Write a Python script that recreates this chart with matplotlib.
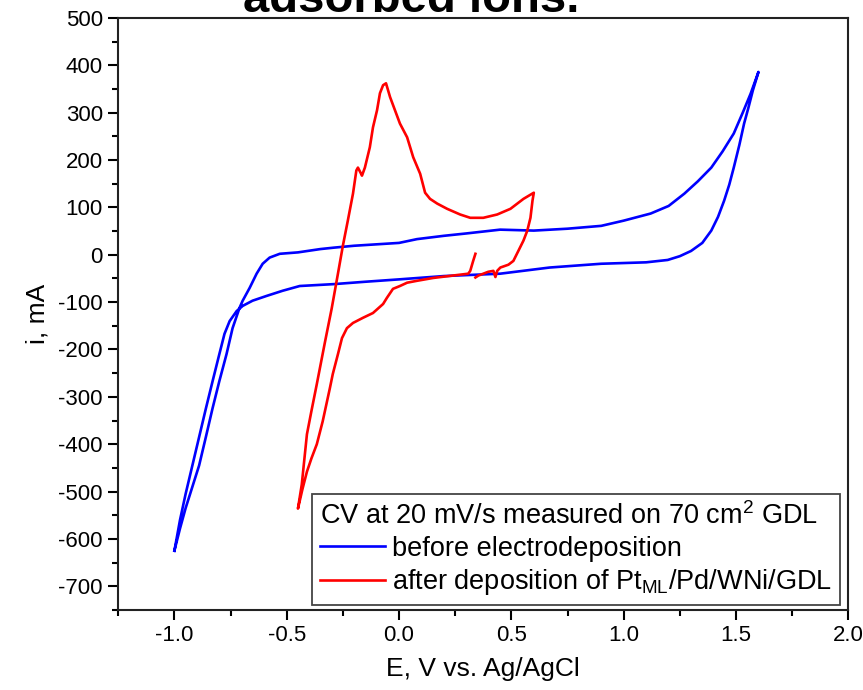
import matplotlib
matplotlib.use('Agg')
import matplotlib.pyplot as plt
from matplotlib.ticker import MultipleLocator

plt.rcParams['font.family'] = ['Liberation Sans', 'DejaVu Sans']
plt.rcParams['mathtext.fontset'] = 'custom'
plt.rcParams['mathtext.rm'] = 'Liberation Sans'
plt.rcParams['mathtext.it'] = 'Liberation Sans'
plt.rcParams['axes.unicode_minus'] = False

# CV before electrodeposition (anodic sweep then cathodic sweep)
blue_v = [-1.0, -0.975, -0.95, -0.92, -0.89, -0.86, -0.83, -0.80, -0.768, -0.741, -0.71,
          -0.696, -0.665, -0.634, -0.607, -0.576, -0.531, -0.45, -0.35, -0.29, -0.2, -0.1,
          0.0, 0.08, 0.2, 0.3, 0.45, 0.6, 0.75, 0.9, 1.0, 1.12, 1.2, 1.27, 1.33, 1.39, 1.44,
          1.49, 1.53, 1.565, 1.6,
          1.575, 1.555, 1.536, 1.515, 1.49, 1.47, 1.447, 1.42, 1.39, 1.35, 1.30, 1.25, 1.196,
          1.1, 0.9, 0.67, 0.45, 0.2, 0.0, -0.15, -0.29, -0.442, -0.518, -0.59, -0.652, -0.696,
          -0.723, -0.754, -0.777, -0.80, -0.83, -0.86, -0.89, -0.92, -0.95, -0.975, -1.0]
blue_i = [-625, -578, -535, -490, -445, -385, -324, -267, -210, -155, -112,
          -97, -70, -40, -19, -6, 2, 5, 12, 15, 19, 22,
          25, 33, 40, 45, 53, 51, 55, 61, 72, 87, 103, 129, 155, 184, 218,
          256, 300, 340, 386,
          347, 310, 277, 232, 184, 148, 114, 80, 51, 25, 8, -3, -11,
          -16, -19, -27, -40, -45, -52, -57, -62, -66, -76, -87, -97, -108,
          -119, -140, -167, -210, -267, -325, -385, -445, -505, -560, -625]

# CV after deposition of Pt_ML/Pd/WNi/GDL
red_v = [0.34, 0.33, 0.317, 0.308, 0.152, 0.08, 0.036, 0.004, -0.027, -0.054, -0.071, -0.116,
         -0.16, -0.205, -0.232, -0.254, -0.272, -0.295, -0.308, -0.34, -0.366, -0.39, -0.41,
         -0.43, -0.45, -0.433, -0.41, -0.39, -0.366, -0.33, -0.30, -0.272, -0.25, -0.228,
         -0.205, -0.19, -0.183, -0.17, -0.165, -0.152, -0.13, -0.116, -0.098, -0.085, -0.071,
         -0.058, -0.04, -0.018, 0.004, 0.036, 0.063, 0.094, 0.116, 0.138, 0.17, 0.214, 0.272,
         0.317, 0.375, 0.437, 0.496, 0.554, 0.6, 0.594, 0.585, 0.571, 0.554, 0.531, 0.509,
         0.487, 0.451, 0.437, 0.429, 0.42, 0.397, 0.375, 0.353, 0.34]
red_i = [2, -13, -34, -40, -49, -55, -59, -66, -72, -91, -104, -123,
         -133, -144, -155, -176, -210, -252, -282, -352, -400, -430, -458,
         -495, -536, -485, -379, -330, -273, -185, -114, -40, 19, 72,
         129, 178, 184, 172, 167, 184, 227, 269, 305, 341, 358,
         362, 333, 305, 277, 248, 206, 171, 131, 118, 108, 97, 85,
         78, 78, 85, 97, 118, 131, 114, 78, 51, 30, 8, -13,
         -21, -27, -34, -47, -34, -36, -40, -44, -48]

legend_title = 'CV at 20 mV/s measured on 70 cm$^2$ GDL'
labels = ['before electrodeposition', 'after deposition of Pt$_{\\mathrm{ML}}$/Pd/WNi/GDL']

fig = plt.figure(figsize=(8.63, 6.90), dpi=100)
ax = fig.add_axes([0.137, 0.116, 0.846, 0.858])

ax.plot(blue_v, blue_i, color='#0000ff', lw=1.9, label=labels[0])
ax.plot(red_v, red_i, color='#ff0000', lw=1.9, label=labels[1])

ax.set_xlim(-1.25, 2.0)
ax.set_ylim(-750, 500)
ax.xaxis.set_major_locator(MultipleLocator(0.5))
ax.xaxis.set_minor_locator(MultipleLocator(0.25))
ax.yaxis.set_major_locator(MultipleLocator(100))
ax.yaxis.set_minor_locator(MultipleLocator(50))
ax.tick_params(which='major', direction='out', length=7, width=1.5, labelsize=16, pad=4)
ax.tick_params(which='minor', direction='out', length=4, width=1.5)
for s in ax.spines.values():
    s.set_linewidth(1.5)
    s.set_color('#222222')

ax.set_xlabel('E, V vs. Ag/AgCl', fontsize=19, labelpad=8)
ax.set_ylabel('i, mA', fontsize=19, labelpad=6)

leg = ax.legend(title=legend_title, loc='lower right', bbox_to_anchor=(0.989, 0.008),
                borderaxespad=0, fontsize=19.5, title_fontsize=19.5, fancybox=False,
                edgecolor='#444444', framealpha=1, handlelength=2.4, handletextpad=0.25,
                labelspacing=0.2, borderpad=0.3)
leg.get_frame().set_linewidth(1.3)
leg._legend_box.align = 'left'

fig.text(0.477, 0.982, 'adsorbed ions.', fontsize=34, fontweight='bold', ha='center', va='baseline')

fig.savefig('out.png', dpi=100)
